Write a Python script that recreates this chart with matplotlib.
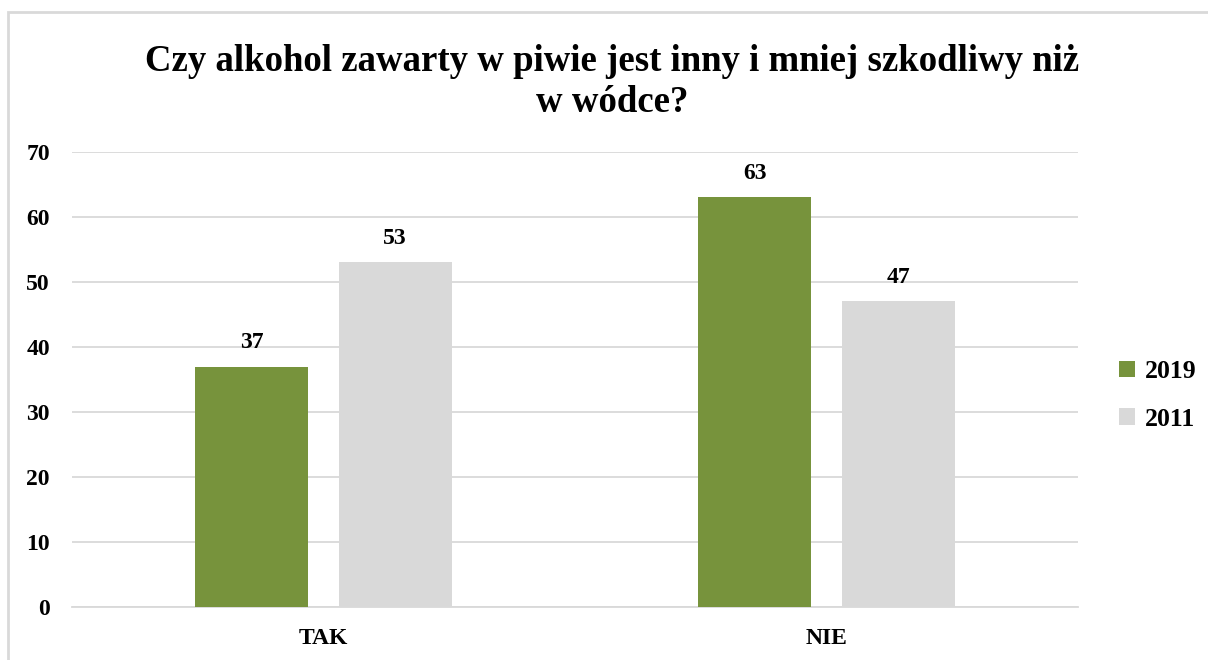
import matplotlib
matplotlib.use("Agg")
import matplotlib.pyplot as plt
from matplotlib.patches import Rectangle
import numpy as np

categories = ["TAK", "NIE"]
series_names = ["2019", "2011"]
values_2019 = [37, 63]
values_2011 = [53, 47]
yticks = [0, 10, 20, 30, 40, 50, 60, 70]
title = "Czy alkohol zawarty w piwie jest inny i mniej szkodliwy niż\nw wódce?"

GREEN = "#77933c"
GREY = "#d9d9d9"

plt.rcParams['font.family'] = ['Liberation Serif', 'DejaVu Serif']
plt.rcParams['font.weight'] = 'bold'

fig = plt.figure(figsize=(12.08, 6.6), dpi=100)
ax = fig.add_axes([72/1208, 1-607/660, 1006/1208, 455/660])

# chart frame
fig.patches.append(Rectangle((8/1208, -0.1), 1.2, 1-12/660+0.1, transform=fig.transFigure,
                             fill=False, edgecolor=GREY, linewidth=2))

x = np.arange(len(categories))
w = 0.225
off = 0.1425
b1 = ax.bar(x - off, values_2019, w, color=GREEN, label=series_names[0], zorder=3)
b2 = ax.bar(x + off, values_2011, w, color=GREY, label=series_names[1], zorder=3)

for bars in (b1, b2):
    for r in bars:
        ax.annotate(f"{r.get_height():.0f}", (r.get_x() + r.get_width()/2, r.get_height()),
                    xytext=(0, 10), textcoords="offset points", ha="center", va="bottom",
                    fontsize=17, fontweight="bold")

ax.set_xlim(-0.5, 1.5)
ax.set_ylim(0, 70)
ax.set_yticks(yticks)
ax.set_xticks(x, categories)
ax.grid(axis="y", color=GREY, linewidth=1.3, zorder=0)
for s in ["top", "right", "left"]:
    ax.spines[s].set_visible(False)
ax.spines["bottom"].set_color(GREY)
ax.spines["bottom"].set_linewidth(1.3)
ax.tick_params(axis="both", length=0, labelsize=17)
ax.tick_params(axis="y", pad=16)
ax.tick_params(axis="x", pad=15)

fig.text(612/1208, 1-82/660, title, ha="center", va="center", fontsize=26.5,
         fontweight="bold", linespacing=1.2)

ax.legend(loc="center left", bbox_to_anchor=(1.018, 0.465), frameon=False, fontsize=18.5,
          handlelength=0.6, handleheight=0.6, labelspacing=0.95, handletextpad=0.4)

fig.savefig("out.png", dpi=100)
